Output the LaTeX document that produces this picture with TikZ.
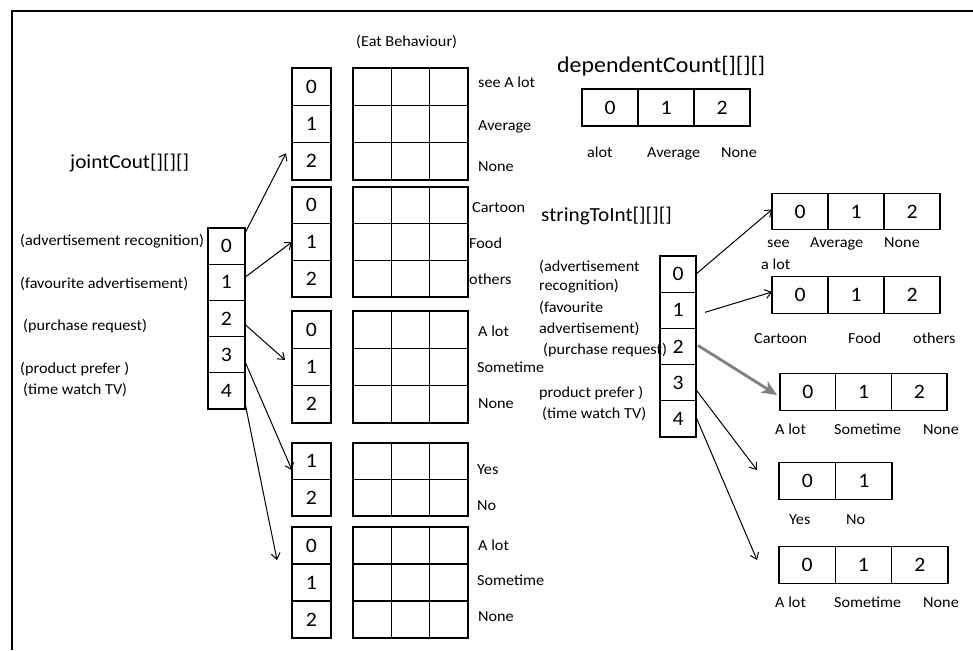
\documentclass[tikz,border=0pt]{standalone}
\usepackage{fontspec}
\setmainfont{Carlito}[FakeStretch=1.06]
\usetikzlibrary{arrows.meta}
\begin{document}
\begin{tikzpicture}[x=1pt,y=-1pt,
  cell/.style={draw, line width=1.3pt, inner sep=0pt, outer sep=0pt,
    font=\fontsize{20.5}{22}\selectfont},
  lbl/.style={inner sep=0pt, anchor=west, yshift=-2.5pt, text height=0.72em, text depth=0.2em,
    font=\fontsize{15.3}{17}\selectfont},
  heading/.style={inner sep=0pt, anchor=west},
  link/.style={line width=1pt, -{Straight Barb[length=6pt,width=9pt]}},
  biglink/.style={line width=2.8pt, black!50, -{Stealth[length=15pt,width=13pt,inset=4pt]}},
  frameline/.style={line width=2.5pt}
]
\useasboundingbox (0,0) rectangle (973,650);

% outer frame (top and left edges only)
\draw[frameline] (12,650) -- (12,11) -- (973,11);

% ---------- jointCout[][][] ----------
\node[heading, font=\fontsize{20}{22}\selectfont] (jctitle) at (70,163) {jointCout[][][]};
\foreach \k in {0,...,4}
  \node[cell, minimum width=37pt, minimum height=36.2pt] (J\k) at (226.5, 246.1+36.2*\k) {\k};

\foreach \x/\y/\t [count=\i] in {
  20/240/(advertisement recognition),
  20/283/(favourite advertisement),
  23/325/(purchase request),
  20/368/(product prefer ),
  23/389/(time watch TV)}
  \node[lbl] (jl\i) at (\x,\y) {\t};

% second-level index columns with their 3-column grids
\foreach \g/\top/\h/\n/\o in {1/68/37.3/3/0, 2/187/36.7/3/0, 3/311/37.3/3/0, 4/443/36.5/2/1, 5/527/37/3/0} {
  \foreach \r in {1,...,\n} {
    \pgfmathtruncatemacro\rr{\r-1}
    \pgfmathtruncatemacro\dd{\r-1+\o}
    \node[cell, minimum width=39pt, minimum height=\h pt] (G\g r\rr) at (311.5, \top+\h*\rr+\h/2) {\dd};
    \foreach \c in {0,1,2}
      \node[cell, minimum width=38.33pt, minimum height=\h pt] (G\g g\rr\c) at (372.17+38.33*\c, \top+\h*\rr+\h/2) {};
  }
}

\node[lbl] (eat) at (356,41) {(Eat Behaviour)};

\foreach \x/\y/\t [count=\i] in {
  478/82/see A lot, 478/125/Average, 478/166/None,
  472/207/Cartoon, 469/243/Food, 469/279/others,
  478/331/A lot, 477/367/Sometime, 478/403/None,
  477/469/Yes, 477/505/No,
  478/545/A lot, 477/580/Sometime, 478/616/None}
  \node[lbl] (gl\i) at (\x,\y) {\t};

% links from jointCout to the second level
\draw[link] ([yshift=13pt]J0.east) -- ([shift={(-6pt,8pt)}]G1r2.west);
\draw[link] ([yshift=5pt]J1.east) -- (G2r1.west);
\draw[link] ([yshift=-6pt]J2.east) -- ([shift={(-7pt,7pt)}]G3r1.west);
\draw[link] ([yshift=-7pt]J3.east) -- ([yshift=-9pt]G4r0.west);
\draw[link] ([yshift=-12pt]J4.east) -- ([shift={(-15pt,-14.5pt)}]G5r0.west);

% ---------- dependentCount[][][] ----------
\node[heading, font=\fontsize{22.5}{24}\selectfont] (dctitle) at (557,66) {dependentCount[][][]};
\foreach \c in {0,1,2}
  \node[cell, minimum width=56pt, minimum height=37pt] (D\c) at (610+56*\c, 107.5) {\c};
\foreach \x/\y/\t [count=\i] in {587/152/alot, 647/152/Average, 721/152/None}
  \node[lbl] (dl\i) at (\x,\y) {\t};

% ---------- stringToInt[][][] ----------
\node[heading, font=\fontsize{20}{22}\selectfont] (sttitle) at (541,216) {stringToInt[][][]};
\foreach \k in {0,...,4}
  \node[cell, minimum width=36pt, minimum height=36.2pt] (S\k) at (678, 274.1+36.2*\k) {\k};

\foreach \x/\y/\t [count=\i] in {
  539/266/(advertisement, 539/285/recognition),
  539/307/(favourite, 539/328/advertisement),
  543/349/(purchase request),
  539/392/product prefer ), 542/413/(time watch TV)}
  \node[lbl] (sl\i) at (\x,\y) {\t};

% value arrays
\foreach \a/\x/\w/\y/\n in {1/772/56/211.5/3, 2/772/56/295/3, 3/780/55.7/392/3, 4/779/56.5/481/2, 5/779/56.3/565/3} {
  \foreach \c in {1,...,\n} {
    \pgfmathtruncatemacro\cc{\c-1}
    \node[cell, minimum width=\w pt, minimum height=36.5pt] (A\a c\cc) at (\x+\w*\cc+\w/2, \y) {\cc};
  }
}

\foreach \x/\y/\t [count=\i] in {
  767/242/see, 810/242/Average, 884/242/None, 761/264/a lot,
  754/338/Cartoon, 848/338/Food, 913/338/others,
  775/429/A lot, 834/429/Sometime, 923/429/None,
  789/519/Yes, 846/519/No,
  775/602/A lot, 834/602/Sometime, 923/602/None}
  \node[lbl] (al\i) at (\x,\y) {\t};

% links from stringToInt to the value arrays
\draw[link] (S0.east) -- ([yshift=2pt]A1c0.west);
\draw[link] ([xshift=9pt,yshift=-2pt]S1.east) -- ([yshift=3pt]A2c0.west);
\draw[biglink] ([xshift=2pt,yshift=1pt]S2.east) -- ([shift={(-3pt,-3pt)}]A3c0.west);
\draw[link] ([yshift=-7pt]S3.east) -- ([shift={(-22pt,11pt)}]A4c0.west);
\draw[link] ([yshift=2pt]S4.east) -- ([shift={(-22pt,5pt)}]A5c0.west);
\end{tikzpicture}
\end{document}
